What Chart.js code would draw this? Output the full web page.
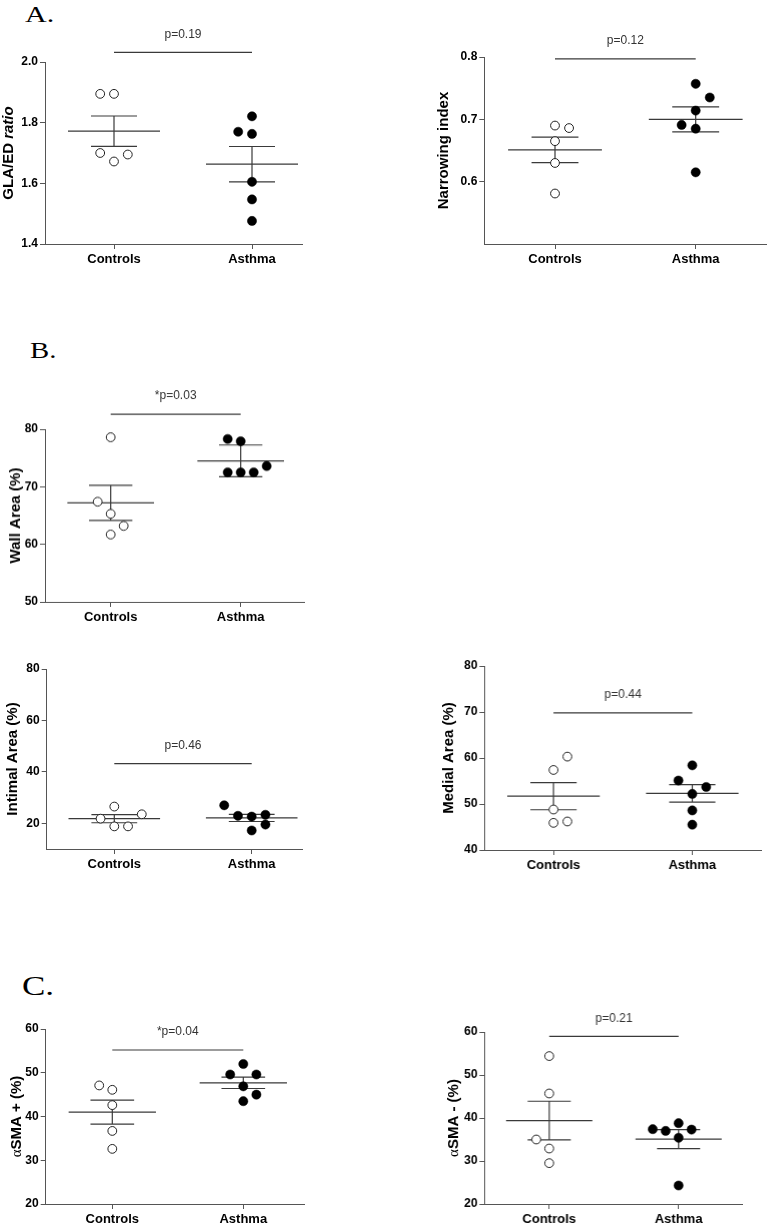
<!DOCTYPE html>
<html><head><meta charset="utf-8">
<script src="https://cdn.jsdelivr.net/npm/chart.js@4.4.1/dist/chart.umd.min.js"></script>
<style>
html,body{margin:0;padding:0;background:#fff;}
body{width:767px;height:1223px;position:relative;overflow:hidden;}
.panel{position:absolute;}
.letter{position:absolute;font-family:"Liberation Serif","DejaVu Serif",serif;color:#000;transform-origin:0 0;white-space:nowrap;}
</style></head><body>
<div class="letter" style="left:25px;top:1.6px;font-size:24px;line-height:24px;transform:scaleX(1.25);">A.</div>
<div class="letter" style="left:30px;top:338.2px;font-size:24px;line-height:24px;transform:scaleX(1.2);">B.</div>
<div class="letter" style="left:22px;top:971.5px;font-size:28px;line-height:28px;transform:scaleX(1.25);">C.</div>
<script>
// ---------------- DATA ----------------
const categories = ["Controls", "Asthma"];

// A. GLA/ED ratio
const glaControls = [1.895, 1.895, 1.700, 1.695, 1.672];
const glaAsthma   = [1.821, 1.770, 1.763, 1.605, 1.547, 1.476];
const glaControlsJitter = [-1, 0, -1, 1, 0];
const glaAsthmaJitter   = [0, -1, 0, 0, 0, 0];
const glaMean = [1.772, 1.663];
const glaSem  = [0.050, 0.0585];
const glaTicks = ["1.4", "1.6", "1.8", "2.0"];
const glaP = "p=0.19";
const glaBracket = 2.032;

// A. Narrowing index
const narControls = [0.690, 0.686, 0.665, 0.630, 0.581];
const narAsthma   = [0.757, 0.735, 0.714, 0.691, 0.685, 0.615];
const narControlsJitter = [0, 1, 0, 0, 0];
const narAsthmaJitter   = [0, 1, 0, -1, 0, 0];
const narMean = [0.651, 0.700];
const narSem  = [0.0205, 0.020];
const narTicks = ["0.6", "0.7", "0.8"];
const narP = "p=0.12";
const narBracket = 0.797;

// B. Wall Area (%)
const wallControls = [78.6, 67.4, 65.3, 63.2, 61.7];
const wallAsthma   = [78.3, 77.9, 72.5, 72.5, 72.5, 73.6];
const wallControlsJitter = [0, -1, 0, 1, 0];
const wallAsthmaJitter   = [-1, 0, -1, 0, 1, 2];
const wallMean = [67.2, 74.5];
const wallSem  = [3.05, 2.75];
const wallTicks = ["50", "60", "70", "80"];
const wallP = "*p=0.03";
const wallBracket = 82.6;

// B. Intimal Area (%)
const intControls = [26.5, 21.8, 23.5, 18.8, 18.8];
const intAsthma   = [27.0, 22.9, 22.6, 23.3, 19.5, 17.2];
const intControlsJitter = [0, -1, 2, 0, 1];
const intAsthmaJitter   = [-2, -1, 0, 1, 1, 0];
const intMean = [21.8, 22.1];
const intSem  = [1.6, 1.4];
const intTicks = ["20", "40", "60", "80"];
const intP = "p=0.46";
const intBracket = 43.2;

// B. Medial Area (%)
const medControls = [60.3, 57.4, 48.8, 45.9, 46.2];
const medAsthma   = [58.4, 55.1, 53.7, 52.2, 48.6, 45.5];
const medControlsJitter = [1, 0, 0, 0, 1];
const medAsthmaJitter   = [0, -1, 1, 0, 0, 0];
const medMean = [51.7, 52.3];
const medSem  = [2.95, 1.9];
const medTicks = ["40", "50", "60", "70", "80"];
const medP = "p=0.44";
const medBracket = 69.8;

// C. aSMA + (%)
const smaPosControls = [47.1, 46.1, 42.6, 36.7, 32.6];
const smaPosAsthma   = [52.0, 49.6, 49.6, 46.9, 45.0, 43.5];
const smaPosControlsJitter = [-1, 0, 0, 0, 0];
const smaPosAsthmaJitter   = [0, -1, 1, 0, 1, 0];
const smaPosMean = [41.0, 47.7];
const smaPosSem  = [2.75, 1.3];
const smaPosTicks = ["20", "30", "40", "50", "60"];
const smaPosP = "*p=0.04";
const smaPosBracket = 55.2;

// C. aSMA - (%)
const smaNegControls = [54.4, 45.7, 35.0, 32.9, 29.5];
const smaNegAsthma   = [38.8, 37.4, 37.0, 37.3, 35.4, 24.3];
const smaNegControlsJitter = [0, 0, -1, 0, 0];
const smaNegAsthmaJitter   = [0, -2, -1, 1, 0, 0];
const smaNegMean = [39.4, 35.1];
const smaNegSem  = [4.5, 2.2];
const smaNegTicks = ["20", "30", "40", "50", "60"];
const smaNegP = "p=0.21";
const smaNegBracket = 59.0;

// ---------------- LAYOUT ----------------
const SANS = '"Liberation Sans", Arial, sans-serif';
const BOLD = 'bold 15px ' + SANS;
const panels = [
  {ctl: glaControls, ast: glaAsthma, cj: glaControlsJitter, aj: glaAsthmaJitter, mean: glaMean, sem: glaSem, ticks: glaTicks, p: glaP, br: glaBracket,
   min: 1.4, max: 2.0, title: [["GLA/ED ", BOLD], ["ratio", 'italic bold 15px ' + SANS]],
   canvasLeft: 0, axL: 45, axR: 303, c1: 114, c2: 252, yTop: 62, yBot: 244, tOff: 36.5},
  {ctl: narControls, ast: narAsthma, cj: narControlsJitter, aj: narAsthmaJitter, mean: narMean, sem: narSem, ticks: narTicks, p: narP, br: narBracket,
   min: 0.5, max: 0.8, title: [["Narrowing index", BOLD]],
   canvasLeft: 430, axL: 484.3, axR: 767, c1: 555, c2: 695.7, yTop: 56.7, yBot: 244, tOff: 40},
  {ctl: wallControls, ast: wallAsthma, cj: wallControlsJitter, aj: wallAsthmaJitter, mean: wallMean, sem: wallSem, ticks: wallTicks, p: wallP, br: wallBracket,
   min: 50, max: 80, title: [["Wall Area (%)", BOLD]],
   canvasLeft: 0, axL: 45, axR: 305, c1: 110.7, c2: 240.7, yTop: 429.3, yBot: 601.7, tOff: 29.5},
  {ctl: intControls, ast: intAsthma, cj: intControlsJitter, aj: intAsthmaJitter, mean: intMean, sem: intSem, ticks: intTicks, p: intP, br: intBracket,
   min: 10, max: 80, title: [["Intimal Area (%)", BOLD]],
   canvasLeft: 0, axL: 46.7, axR: 303, c1: 114.3, c2: 251.7, yTop: 669.3, yBot: 849.3, tOff: 34},
  {ctl: medControls, ast: medAsthma, cj: medControlsJitter, aj: medAsthmaJitter, mean: medMean, sem: medSem, ticks: medTicks, p: medP, br: medBracket,
   min: 40, max: 80, title: [["Medial Area (%)", BOLD]],
   canvasLeft: 430, axL: 484.3, axR: 761.7, c1: 553.3, c2: 692, yTop: 665.7, yBot: 849.7, tOff: 35.5},
  {ctl: smaPosControls, ast: smaPosAsthma, cj: smaPosControlsJitter, aj: smaPosAsthmaJitter, mean: smaPosMean, sem: smaPosSem, ticks: smaPosTicks, p: smaPosP, br: smaPosBracket,
   min: 20, max: 60, title: [["\u03B1", '15px "Liberation Serif", serif'], ["SMA + (%)", BOLD]],
   canvasLeft: 0, axL: 45.7, axR: 305, c1: 112.3, c2: 243.3, yTop: 1029.3, yBot: 1204.3, tOff: 29},
  {ctl: smaNegControls, ast: smaNegAsthma, cj: smaNegControlsJitter, aj: smaNegAsthmaJitter, mean: smaNegMean, sem: smaNegSem, ticks: smaNegTicks, p: smaNegP, br: smaNegBracket,
   min: 20, max: 60, title: [["\u03B1", '15px "Liberation Serif", serif'], ["SMA - (%)", BOLD]],
   canvasLeft: 430, axL: 484.3, axR: 742.7, c1: 549, c2: 678.3, yTop: 1032.3, yBot: 1204.3, tOff: 30.5}
];

const PAD_TOP = 42, HX = 30, JIT = 0.1, MEAN_HW = 1/3, CAP_HW = 1/6;
const LINE = '#3a3a3a', AXIS = '#555';

function meanSem(m, se, cx) {
  return [
    {x: cx - MEAN_HW, y: m}, {x: cx + MEAN_HW, y: m}, {x: cx, y: null},
    {x: cx - CAP_HW, y: m + se}, {x: cx + CAP_HW, y: m + se}, {x: cx, y: null},
    {x: cx - CAP_HW, y: m - se}, {x: cx + CAP_HW, y: m - se}, {x: cx, y: null},
    {x: cx, y: m - se}, {x: cx, y: m + se}
  ];
}

const overlay = {
  id: 'overlay',
  afterDraw(chart, args, opts) {
    const P = opts.panel, ctx = chart.ctx, ca = chart.chartArea;
    const xs = chart.scales.x, ys = chart.scales.y;
    ctx.save();
    ctx.fillStyle = '#333';
    ctx.font = '12px ' + SANS;
    ctx.textAlign = 'center';
    ctx.textBaseline = 'middle';
    ctx.fillText(P.p, xs.getPixelForValue(1.5), ys.getPixelForValue(P.br) - 18);
    ctx.translate(ca.left - P.tOff, (ca.top + ca.bottom) / 2);
    ctx.rotate(-Math.PI / 2);
    ctx.fillStyle = '#000';
    ctx.textAlign = 'left';
    let total = 0;
    P.title.forEach(([t, f]) => { ctx.font = f; total += ctx.measureText(t).width; });
    let x = -total / 2;
    P.title.forEach(([t, f]) => { ctx.font = f; ctx.fillText(t, x, 0); x += ctx.measureText(t).width; });
    ctx.restore();
  }
};

panels.forEach((P) => {
  const cv = document.createElement('canvas');
  const W = P.axR - P.canvasLeft;
  const Wy = P.axL - P.canvasLeft;
  const H = PAD_TOP + (P.yBot - P.yTop) + HX;
  cv.className = 'panel';
  cv.style.left = P.canvasLeft + 'px';
  cv.style.top = (P.yTop - PAD_TOP) + 'px';
  cv.style.width = W + 'px';
  cv.style.height = H + 'px';
  cv.width = W; cv.height = H;
  document.body.appendChild(cv);
  const unit = P.c2 - P.c1;
  const xmin = 1 - (P.c1 - P.axL) / unit;
  const xmax = 2 + (P.axR - P.c2) / unit;
  const tickVals = P.ticks.map(parseFloat);

  new Chart(cv, {
    type: 'scatter',
    data: {
      datasets: [
        {data: P.ctl.map((v, k) => ({x: 1 + P.cj[k] * JIT, y: v})),
         pointRadius: 4.4, pointBackgroundColor: '#fff', pointBorderColor: '#222', pointBorderWidth: 1, clip: false, order: 1},
        {data: P.ast.map((v, k) => ({x: 2 + P.aj[k] * JIT, y: v})),
         pointRadius: 4.6, pointBackgroundColor: '#000', pointBorderColor: '#000', pointBorderWidth: 0.5, clip: false, order: 1},
        {data: meanSem(P.mean[0], P.sem[0], 1), showLine: true, spanGaps: false, pointRadius: 0, borderColor: LINE, borderWidth: 1.2, clip: false, order: 2},
        {data: meanSem(P.mean[1], P.sem[1], 2), showLine: true, spanGaps: false, pointRadius: 0, borderColor: LINE, borderWidth: 1.2, clip: false, order: 2},
        {data: [{x: 1, y: P.br}, {x: 2, y: P.br}], showLine: true, pointRadius: 0, borderColor: LINE, borderWidth: 1.2, clip: false}
      ]
    },
    options: {
      responsive: false, animation: false, events: [],
      layout: {autoPadding: false, padding: {top: PAD_TOP, left: 0, right: 0, bottom: 0}},
      plugins: {legend: {display: false}, tooltip: {enabled: false}, overlay: {panel: P}},
      scales: {
        x: {
          type: 'linear', min: xmin, max: xmax,
          afterBuildTicks: s => { s.ticks = [{value: 1}, {value: 2}]; },
          afterFit: s => { s.height = HX; },
          ticks: {callback: v => categories[Math.round(v) - 1], color: '#000', padding: 3, maxRotation: 0,
                  font: {family: SANS, size: 13, weight: 'bold'}},
          grid: {display: true, drawOnChartArea: false, drawTicks: true, tickLength: 5, color: AXIS},
          border: {display: true, color: AXIS, width: 1}
        },
        y: {
          type: 'linear', min: P.min, max: P.max,
          afterBuildTicks: s => { s.ticks = tickVals.map(v => ({value: v})); },
          afterFit: s => { s.width = Wy; },
          ticks: {callback: (v, k) => P.ticks[k], color: '#000', padding: 2,
                  font: {family: SANS, size: 12, weight: 'bold'}},
          grid: {display: true, drawOnChartArea: false, drawTicks: true, tickLength: 5, color: AXIS},
          border: {display: true, color: AXIS, width: 1}
        }
      }
    },
    plugins: [overlay]
  });
});
</script>
</body></html>
